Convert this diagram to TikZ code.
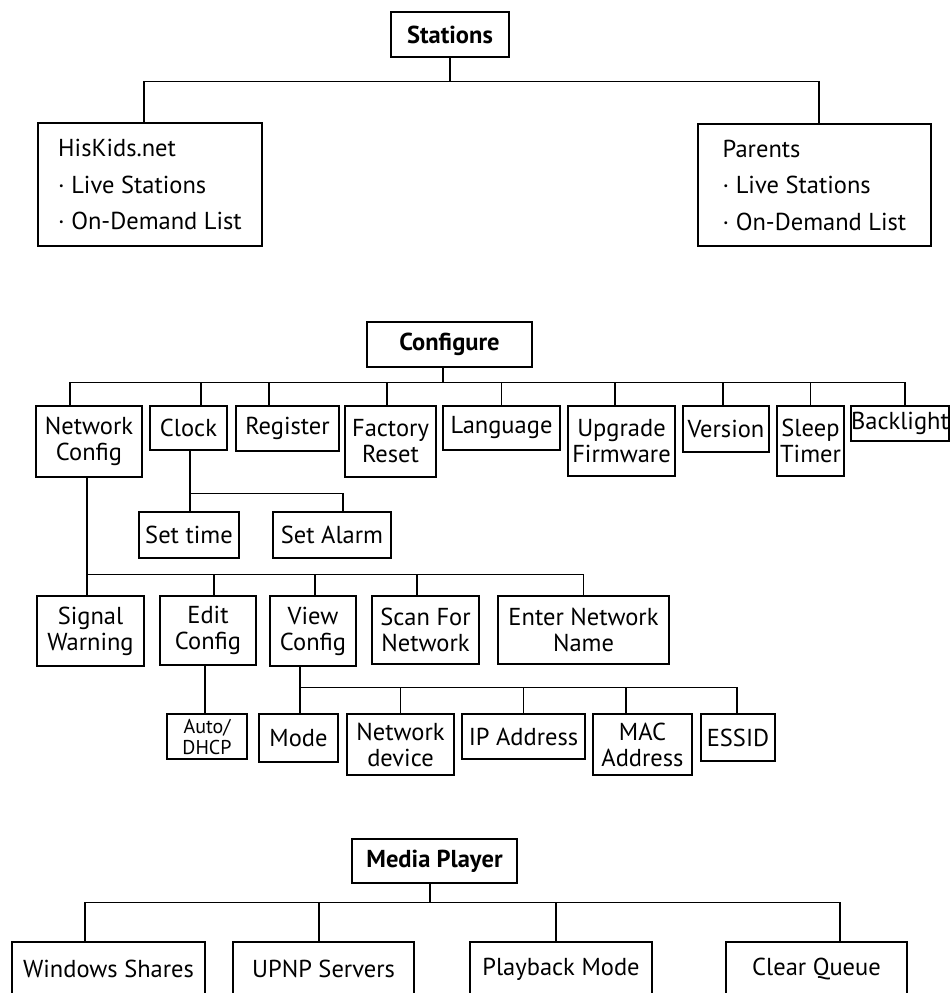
\documentclass[tikz,border=0pt]{standalone}
\usepackage{fontspec}
\setmainfont{PT Sans}
\tikzstyle{menuhead} = [rectangle, draw=black, line width=1.3pt, inner sep=0pt, text centered, font=\bfseries\fontsize{24.5}{26}\selectfont]
\tikzstyle{menuitem} = [rectangle, draw=black, line width=1.3pt, inner sep=0pt, align=center, font=\fontsize{24.5}{26}\selectfont]
\tikzstyle{listbox} = [rectangle, draw=black, line width=1.3pt, inner sep=0pt, align=left, font=\fontsize{24.5}{36.5}\selectfont]
\tikzstyle{smallitem} = [menuitem, font=\fontsize{20}{21}\selectfont]
\tikzstyle{link} = [line width=1.3pt]

\begin{document}
\begin{tikzpicture}[x=1pt, y=-1pt]
    \useasboundingbox (0,0) rectangle (951,993);

    % Stations
    \node (stations) [menuhead, minimum width=118pt, minimum height=45pt] at (450,34.5) {Stations};
    \node (hiskids) [listbox, minimum width=224pt, minimum height=123pt] at (150,184.5) {HisKids.net\\· Live Stations\\· On-Demand List};
    \node (parents) [listbox, minimum width=233pt, minimum height=122pt] at (814.5,185) {Parents\\· Live Stations\\· On-Demand List};

    \draw [link] (stations.south) -- ++(0,24) -| ([xshift=-6pt]hiskids.north);
    \draw [link] (stations.south) -- ++(0,24) -| ([xshift=4.5pt]parents.north);

    % Configure
    \node (configure) [menuhead, minimum width=165pt, minimum height=45pt] at (449.5,344.5) {Configure};
    \node (netcfg) [menuitem, minimum width=106pt, minimum height=71pt] at (89,441.5) {Network\\Config};
    \node (clock) [menuitem, minimum width=77pt, minimum height=44pt] at (188.5,428) {Clock};
    \node (register) [menuitem, minimum width=103pt, minimum height=45pt] at (287.5,428.5) {Register};
    \node (factory) [menuitem, minimum width=91pt, minimum height=71pt] at (390.5,441.5) {Factory\\Reset};
    \node (language) [menuitem, minimum width=117pt, minimum height=44pt] at (501.5,428) {Language};
    \node (upgrade) [menuitem, minimum width=107pt, minimum height=70pt] at (621.5,441) {Upgrade\\Firmware};
    \node (version) [menuitem, minimum width=86pt, minimum height=46pt] at (726,429) {Version};
    \node (sleep) [menuitem, minimum width=67pt, minimum height=70pt] at (810.5,441) {Sleep\\Timer};
    \node (backlight) [menuitem, minimum width=98pt, minimum height=35pt] at (900,423.5) {Backlight};

    \draw [link] ([xshift=-6.5pt]configure.south) -- ++(0,15) -| ([xshift=-19pt]netcfg.north);
    \draw [link] ([xshift=-6.5pt]configure.south) -- ++(0,15) -| ([xshift=12.5pt]clock.north);
    \draw [link] ([xshift=-6.5pt]configure.south) -- ++(0,15) -| ([xshift=-18.5pt]register.north);
    \draw [link] ([xshift=-6.5pt]configure.south) -- ++(0,15) -| ([xshift=-3.5pt]factory.north);
    \draw [link] ([xshift=-6.5pt]configure.south) -- ++(0,15) -| (language.north);
    \draw [link] ([xshift=-6.5pt]configure.south) -- ++(0,15) -| ([xshift=-6.5pt]upgrade.north);
    \draw [link] ([xshift=-6.5pt]configure.south) -- ++(0,15) -| ([xshift=-3pt]version.north);
    \draw [link] ([xshift=-6.5pt]configure.south) -- ++(0,15) -| (sleep.north);
    \draw [link] ([xshift=-6.5pt]configure.south) -- ++(0,15) -| ([xshift=5pt]backlight.north);

    % Clock
    \node (settime) [menuitem, minimum width=100pt, minimum height=46pt] at (189,535) {Set time};
    \node (setalarm) [menuitem, minimum width=118pt, minimum height=46pt] at (332,535) {Set Alarm};

    \draw [link] ([xshift=1.5pt]clock.south) -- ++(0,43) -| ([xshift=1pt]settime.north);
    \draw [link] ([xshift=1.5pt]clock.south) -- ++(0,43) -| ([xshift=11pt]setalarm.north);

    % Network Config
    \node (signal) [menuitem, minimum width=107pt, minimum height=70pt] at (90.5,631) {Signal\\Warning};
    \node (editcfg) [menuitem, minimum width=96pt, minimum height=69pt] at (208,630.5) {Edit\\Config};
    \node (viewcfg) [menuitem, minimum width=86pt, minimum height=70pt] at (313,631) {View\\Config};
    \node (scan) [menuitem, minimum width=107pt, minimum height=68pt] at (425.5,630) {Scan For\\Network};
    \node (entername) [menuitem, minimum width=171pt, minimum height=68pt] at (583.5,630) {Enter Network\\Name};

    \draw [link] ([xshift=-2pt]netcfg.south) -- ++(0,97) -| ([xshift=-3.5pt]signal.north);
    \draw [link] ([xshift=-2pt]netcfg.south) -- ++(0,97) -| ([xshift=6pt]editcfg.north);
    \draw [link] ([xshift=-2pt]netcfg.south) -- ++(0,97) -| ([xshift=2pt]viewcfg.north);
    \draw [link] ([xshift=-2pt]netcfg.south) -- ++(0,97) -| ([xshift=-8.5pt]scan.north);
    \draw [link] ([xshift=-2pt]netcfg.south) -- ++(0,97) -| (entername.north);

    % Edit / View Config
    \node (autodhcp) [smallitem, minimum width=80pt, minimum height=45pt] at (207,736.5) {Auto/\\DHCP};
    \node (mode) [menuitem, minimum width=79pt, minimum height=48pt] at (298.5,738) {Mode};
    \node (netdev) [menuitem, minimum width=107pt, minimum height=61pt] at (400.5,744.5) {Network\\device};
    \node (ipaddr) [menuitem, minimum width=123pt, minimum height=45pt] at (523.5,736.5) {IP Address};
    \node (macaddr) [menuitem, minimum width=99pt, minimum height=61pt] at (642.5,744.5) {MAC\\Address};
    \node (essid) [menuitem, minimum width=74pt, minimum height=47pt] at (738,737.5) {ESSID};

    \draw [link] ([xshift=-3pt]editcfg.south) -- ([xshift=-3pt]editcfg.south |- autodhcp.north);
    \draw [link] ([xshift=-13pt]viewcfg.south) -- ++(0,21) -| ([xshift=1.5pt]mode.north);
    \draw [link] ([xshift=-13pt]viewcfg.south) -- ++(0,21) -| (netdev.north);
    \draw [link] ([xshift=-13pt]viewcfg.south) -- ++(0,21) -| (ipaddr.north);
    \draw [link] ([xshift=-13pt]viewcfg.south) -- ++(0,21) -| ([xshift=-16.5pt]macaddr.north);
    \draw [link] ([xshift=-13pt]viewcfg.south) -- ++(0,21) -| ([xshift=-1pt]essid.north);

    % Media Player
    \node (media) [menuhead, minimum width=165pt, minimum height=44pt] at (434.5,861) {Media Player};
    \node (winshares) [menuitem, minimum width=193pt, minimum height=54pt] at (108.5,969) {Windows Shares};
    \node (upnp) [menuitem, minimum width=181pt, minimum height=54pt] at (323.5,969) {UPNP Servers};
    \node (playback) [menuitem, minimum width=182pt, minimum height=54pt] at (561,969) {Playback Mode};
    \node (clearq) [menuitem, minimum width=181pt, minimum height=54pt] at (816.5,969) {Clear Queue};

    \draw [link] ([xshift=-4.5pt]media.south) -- ++(0,19) -| ([xshift=-23.5pt]winshares.north);
    \draw [link] ([xshift=-4.5pt]media.south) -- ++(0,19) -| ([xshift=-4.5pt]upnp.north);
    \draw [link] ([xshift=-4.5pt]media.south) -- ++(0,19) -| ([xshift=-5pt]playback.north);
    \draw [link] ([xshift=-4.5pt]media.south) -- ++(0,19) -| ([xshift=23.5pt]clearq.north);

\end{tikzpicture}
\end{document}
